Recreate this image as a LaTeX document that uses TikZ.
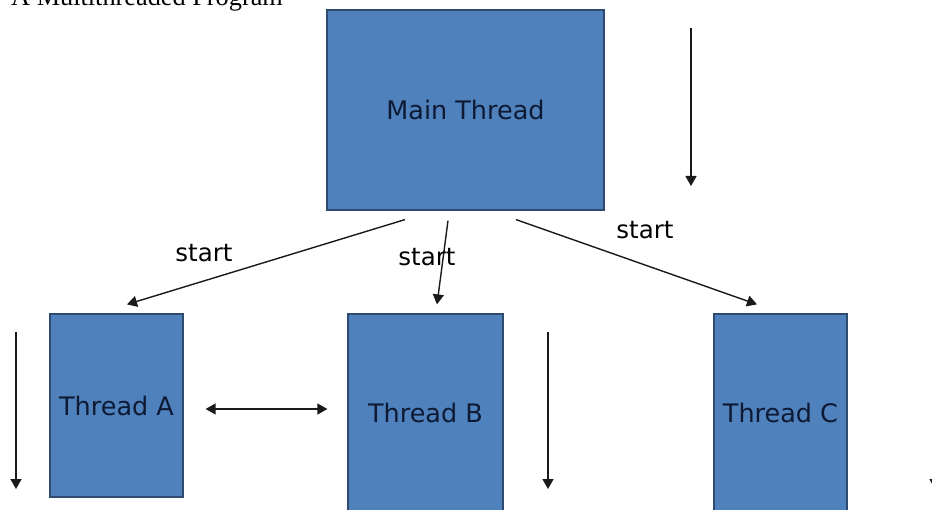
\documentclass[tikz,border=0pt]{standalone}
\usepackage{fontspec}
\setmainfont{DejaVu Sans}
\newfontfamily\titleserif{Liberation Serif}
\usetikzlibrary{arrows.meta}
\definecolor{boxfill}{HTML}{4F81BD}
\definecolor{boxedge}{HTML}{2E4A6E}
\definecolor{boxtext}{HTML}{0E1A33}
\definecolor{linecol}{HTML}{1A1A1A}
\tikzset{
  threadbox/.style={draw=boxedge, line width=1.2pt, fill=boxfill, text=boxtext,
    font=\fontsize{25.5}{30}\selectfont, inner sep=0pt},
  tip/.tip={Triangle[length=10pt,width=11pt]},
  arr/.style={draw=linecol, line width=1.4pt, -tip},
  darr/.style={draw=linecol, line width=1.4pt, tip-tip},
  lbl/.style={font=\fontsize{24.5}{28}\selectfont, text=black, inner sep=0pt}
}
\begin{document}
\begin{tikzpicture}[x=1pt,y=-1pt]
\useasboundingbox (0,0) rectangle (932,510);
\clip (0,0) rectangle (932,510);
\fill[white] (0,0) rectangle (932,510);
% title (cut off at the top)
\node[anchor=base west, inner sep=0pt, font=\titleserif\fontsize{26.3}{30}\selectfont] (title) at (11,6) {A Multithreaded Program};
% boxes
\node[threadbox, minimum width=277pt, minimum height=200pt] (main) at (465.5,110) {Main Thread};
\node[threadbox, minimum width=133pt, minimum height=183pt] (A) at (116.5,405.5) {Thread A};
\node[threadbox, minimum width=155pt, minimum height=198pt] (B) at (425.5,413) {Thread B};
\node[threadbox, minimum width=133pt, minimum height=198pt] (C) at (780.5,413) {Thread C};
% start arrows
\draw[arr] ([xshift=-60.5pt,yshift=-9pt]main.south) -- ([xshift=10.5pt,yshift=9pt]A.north);
\draw[arr] ([xshift=-17.5pt,yshift=-10pt]main.south) -- ([xshift=11.5pt,yshift=9pt]B.north);
\draw[arr] ([xshift=50.5pt,yshift=-9pt]main.south) -- ([xshift=-23.5pt,yshift=9pt]C.north);
\node[lbl] (s1) at (204,253) {start};
\node[lbl] (s2) at (427,257) {start};
\node[lbl] (s3) at (645,230) {start};
% interaction A <-> B
\draw[darr] ([xshift=22pt,yshift=-3.5pt]A.east) -- ([xshift=-20pt,yshift=4pt]B.west);
% time arrows
\coordinate (t0a) at (691,28);  \coordinate (t0b) at (691,186);
\coordinate (t1a) at (16,332);  \coordinate (t1b) at (16,489);
\coordinate (t2a) at (548,332); \coordinate (t2b) at (548,489);
\coordinate (t3a) at (935,332); \coordinate (t3b) at (935,489);
\draw[arr] (t0a) -- (t0b);
\draw[arr] (t1a) -- (t1b);
\draw[arr] (t2a) -- (t2b);
\draw[arr] (t3a) -- (t3b);
\end{tikzpicture}
\end{document}
